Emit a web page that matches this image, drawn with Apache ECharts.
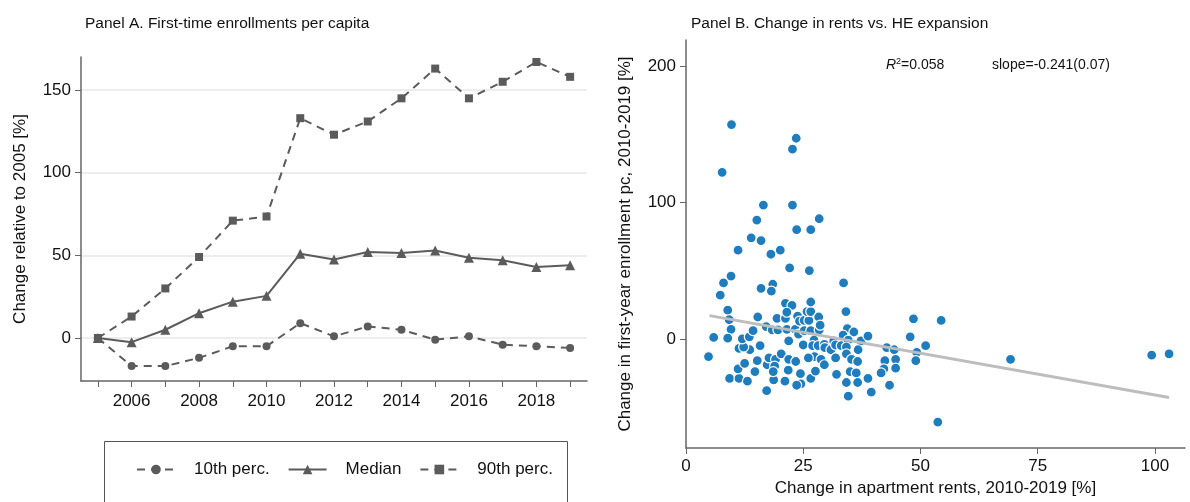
<!DOCTYPE html>
<html><head><meta charset="utf-8">
<script src="https://cdn.jsdelivr.net/npm/echarts@6/dist/echarts.min.js"></script>
<style>html,body{margin:0;padding:0;background:#fff}#c{width:1190px;height:502px}</style>
</head><body><div id="c"></div>
<script>
const years = [2005,2006,2007,2008,2009,2010,2011,2012,2013,2014,2015,2016,2017,2018,2019];
const p10 = [0,-17,-17,-12,-5,-5,9,1,7,5,-1,1,-4,-5,-6];
const median = [0,-2.5,5,15,22,25.5,51,47.5,52,51.5,53,48.5,47,43,44];
const p90 = [0,13,30,49,71,73.5,133,123,131,145,163,145,155,167,158];
const yTicksA = [0,50,100,150];
const xLabelsA = [2006,2008,2010,2012,2014,2016,2018];
const rents = [9.7,23.5,22.7,7.7,16.5,22.7,15.1,28.4,23.6,26.6,13.9,16,11.1,20.1,18.1,22.1,26.3,9.6,8,33.6,18.5,16,18.2,7.3,
8.9,9.2,9.6,5.9,8.9,4.8,9.3,11.3,13.1,11.1,12.5,14.7,15.2,15.8,13.6,11.3,12.3,12,13.5,14.3,15.3,17.2,18.7,17.3,17.7,19.1,18.9,18.6,20.3,17.1,18.4,19.6,19.4,21.2,21.2,22.6,21.5,21.5,23.3,21.9,21.9,21.8,21.1,23.4,24.4,24.5,23.6,26.6,27.6,27.4,26.1,23.8,24.2,25.2,26.2,25.8,26.6,26.6,28.3,24,25.2,26.6,28.4,28.6,25,27.3,27,28.2,29.5,29.6,31.5,30.9,31.9,33.1,34.1,34.4,33.5,35.8,34.6,37.3,38.8,34.2,36.7,34.2,31.9,28.8,29.5,35.3,36.6,35,36.3,32.1,38.8,34.2,36.6,34.6,39.5,
48.5,54.4,47.8,51.1,42.8,44.4,49.2,44.7,42.4,49,44.7,42.2,41.6,43.4,69.2,53.7,99.3,103];
const enroll = [157,147,139,122,98,98,87,88,80,80,74,72,65,65,62,52,50,46,41,41,40,37,35,32,
21,14,7,1,0.5,-13,-29,-29,-31,-22,-18,-24,-16,-5,-8,-7,-6,0,1.5,6,16,-38,-30,-19,-14,-15,-20,-24,-11,9,6.5,6.5,15,15,26,24.5,19.5,7,7,-1.5,-15,-23,-31,-16.6,-25.5,-33,-34,-29,-23.6,-13,-14,16.6,13,13.5,13.5,20,20,27,16,3.4,6,6,6.5,10,-4.5,-1,-5,-5,-4,-6.5,-1.5,-8,-4.5,-5,20,7.5,2.7,5,-1,-1.5,2,-6,-8,-11,-14,-15,-19,-15,-16.6,-24,-25,-26,-29,-32,-32,-42,-39,
14.7,13.5,1.5,-5,-6.5,-8,-10,-15,-16,-16,-21.5,-22,-25,-34,-15,-61,-12,-11];
const fitX = [5,103];
const fitY = [17,-43];
const yTicksB = [0,100,200];
const xTicksB = [0,25,50,75,100];

const grey = '#5b5b5b';
const font = 'Liberation Sans, Arial, sans-serif';
const lineSeries = (name, data, sym, dashed) => ({
  name, type:'line', xAxisIndex:0, yAxisIndex:0,
  data: years.map((y,i)=>[y,data[i]]),
  symbol: sym, symbolSize: sym==='triangle'?10:8,
  lineStyle:{color:grey,width:2,type:dashed?[8,6]:'solid'},
  itemStyle:{color:grey}, emphasis:{disabled:true}
});
const chart = echarts.init(document.getElementById('c'));
chart.setOption({
  animation:false,
  textStyle:{fontFamily:font},
  title:[
    {text:'Panel A. First-time enrollments per capita',left:80,top:11,textStyle:{fontSize:15.5,fontWeight:'normal',color:'#111',fontFamily:font}},
    {text:'Panel B. Change in rents vs. HE expansion',left:686,top:11,textStyle:{fontSize:15.5,fontWeight:'normal',color:'#111',fontFamily:font}}
  ],
  legend:{
    data:['10th perc.','Median','90th perc.'],
    left:136, top:461, width:800, orient:'horizontal',
    padding:0, itemGap:18, itemWidth:38, itemHeight:12,
    textStyle:{fontSize:17,color:'#111',fontFamily:font, padding:[0,0,0,14]}
  },
  grid:[
    {left:81,right:603,top:57,bottom:121},
    {left:686,right:5,top:40,bottom:49}
  ],
  xAxis:[
    {type:'value',gridIndex:0,min:2004.5,max:2019.5,
      axisLine:{onZero:false,lineStyle:{color:'#666',width:1.5}},
      axisTick:{customValues:years,length:6,lineStyle:{color:'#666'}},
      axisLabel:{customValues:xLabelsA,fontSize:17,color:'#111',margin:12,formatter:v=>String(v)},
      splitLine:{show:false}},
    {type:'value',gridIndex:1,min:0,max:106.4,
      name:'Change in apartment rents, 2010-2019 [%]',nameLocation:'middle',nameGap:32,
      nameTextStyle:{fontSize:17,color:'#111'},
      axisLine:{onZero:false,lineStyle:{color:'#666',width:1.5}},
      axisTick:{customValues:xTicksB,length:6,lineStyle:{color:'#666'}},
      axisLabel:{customValues:xTicksB,fontSize:17,color:'#111',margin:10},
      splitLine:{show:false}}
  ],
  yAxis:[
    {type:'value',gridIndex:0,min:-26,max:170,
      name:'Change relative to 2005 [%]',nameLocation:'middle',nameGap:52,
      nameTextStyle:{fontSize:17,color:'#111'},
      axisLine:{show:true,onZero:false,lineStyle:{color:'#666',width:1.5}},
      axisTick:{show:true,customValues:yTicksA,length:6,lineStyle:{color:'#666'}},
      axisLabel:{customValues:yTicksA,fontSize:17,color:'#111',margin:10},
      splitLine:{show:true,lineStyle:{color:'#ededed',width:2}}},
    {type:'value',gridIndex:1,min:-80,max:219,
      name:'Change in first-year enrollment pc, 2010-2019 [%]',nameLocation:'middle',nameGap:52,
      nameTextStyle:{fontSize:17,color:'#111'},
      axisLine:{show:true,onZero:false,lineStyle:{color:'#666',width:1.5}},
      axisTick:{show:true,customValues:yTicksB,length:6,lineStyle:{color:'#666'}},
      axisLabel:{customValues:yTicksB,fontSize:17,color:'#111',margin:10},
      splitLine:{show:false}}
  ],
  series:[
    lineSeries('10th perc.',p10,'circle',true),
    lineSeries('Median',median,'triangle',false),
    lineSeries('90th perc.',p90,'rect',true),
    {type:'scatter',xAxisIndex:1,yAxisIndex:1,data:rents.map((x,i)=>[x,enroll[i]]),
      symbolSize:10,itemStyle:{color:'#1f7cbd',borderColor:'#fff',borderWidth:1.2,opacity:1},z:2,emphasis:{disabled:true}},
    {type:'line',xAxisIndex:1,yAxisIndex:1,data:fitX.map((x,i)=>[x,fitY[i]]),
      symbol:'none',lineStyle:{color:'#bdbdbd',width:3},z:3,emphasis:{disabled:true}}
  ],
  graphic:[
    {type:'rect',shape:{x:104.5,y:441.5,width:463,height:80},style:{fill:'none',stroke:'#555',lineWidth:1}},
    {type:'text',left:886,top:57,style:{text:'{i|R}{s|2}{n|=0.058}',rich:{
      i:{fontStyle:'italic',fontSize:14,fontFamily:font,fill:'#111'},
      s:{fontSize:9,fontFamily:font,verticalAlign:'top',padding:[0,0,8,0],fill:'#111'},
      n:{fontSize:14,fontFamily:font,fill:'#111'}}}},
    {type:'text',left:992,top:58,style:{text:'slope=-0.241(0.07)',fontSize:14,fontFamily:font,fill:'#111'}}
  ]
});
</script></body></html>
